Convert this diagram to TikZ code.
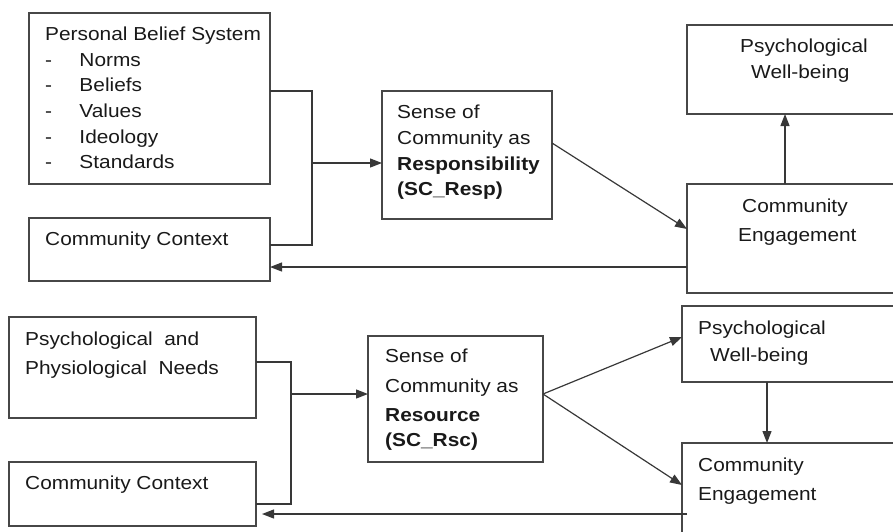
\documentclass[tikz,border=0pt]{standalone}
\usepackage{fontspec}
\setmainfont[FakeStretch=1.11]{Liberation Sans}
\usetikzlibrary{arrows.meta}

\begin{document}
\begin{tikzpicture}[x=1pt,y=-1pt,
  box/.style={draw=black!72, line width=1.2pt, inner sep=0pt, outer sep=0pt, anchor=north west},
  txt/.style={anchor=base west, inner sep=0pt, text=black!90, font=\fontsize{18.8}{22}\selectfont},
  link/.style={draw=black!78, line width=1.2pt},
  arr/.style={link, -{Triangle[length=12pt,width=9pt]}},
]
\useasboundingbox (0,0) rectangle (893,531);
\clip (0,0) rectangle (893,531);

% ---------- upper model: sense of community as responsibility ----------
\node[box, minimum width=241pt, minimum height=171pt] (pbs)  at (29,13)  {};
\node[box, minimum width=241pt, minimum height=63pt]  (cc1)  at (29,218) {};
\node[box, minimum width=170pt, minimum height=128pt] (resp) at (382,91) {};
\node[box, minimum width=220pt, minimum height=89pt]  (pwb1) at (687,25) {};
\node[box, minimum width=220pt, minimum height=109pt] (ce1)  at (687,184) {};

\node[txt] (pbs-t0) at (45,40)   {Personal Belief System};
\node[txt] (pbs-t1) at (45,66)   {\makebox[34.3pt][l]{-}Norms};
\node[txt] (pbs-t2) at (45,91.5) {\makebox[34.3pt][l]{-}Beliefs};
\node[txt] (pbs-t3) at (45,117)  {\makebox[34.3pt][l]{-}Values};
\node[txt] (pbs-t4) at (45,143)  {\makebox[34.3pt][l]{-}Ideology};
\node[txt] (pbs-t5) at (45,168)  {\makebox[34.3pt][l]{-}Standards};

\node[txt] (cc1-t) at (45,245.5) {Community Context};

\node[txt] (resp-t1) at (397,118.3) {Sense of};
\node[txt] (resp-t2) at (397,144)   {Community as};
\node[txt] (resp-t3) at (397,170.5) {\bfseries Responsibility};
\node[txt] (resp-t4) at (397,195.5) {\bfseries (SC\_Resp)};

\node[txt] (pwb1-t1) at (740,52.7) {Psychological};
\node[txt] (pwb1-t2) at (751,78.3) {Well-being};

\node[txt] (ce1-t1) at (742,212.3) {Community};
\node[txt] (ce1-t2) at (738,241.7) {Engagement};

\coordinate (ja) at (312,91);
\coordinate (jb) at (312,245);
\coordinate (jc) at (312,163);
\coordinate (ra) at (0,143);
\coordinate (rb) at (0,229);
\coordinate (fa) at (0,267);
\coordinate (va) at (785,0);

\draw[link] (pbs.east |- ja) -- (ja) -- (jb) -- (cc1.east |- jb);
\draw[arr] (jc) -- (resp.west |- jc);
\draw[arr] (resp.east |- ra) -- (ce1.west |- rb);
\draw[arr] (ce1.north -| va) -- (pwb1.south -| va);
\draw[arr] (ce1.west |- fa) -- (cc1.east |- fa);

% ---------- lower model: sense of community as resource ----------
\node[box, minimum width=247pt, minimum height=101pt] (ppn)  at (9,317)   {};
\node[box, minimum width=247pt, minimum height=64pt]  (cc2)  at (9,462)   {};
\node[box, minimum width=175pt, minimum height=126pt] (rsc)  at (368,336) {};
\node[box, minimum width=225pt, minimum height=76pt]  (pwb2) at (682,306) {};
\node[box, minimum width=225pt, minimum height=110pt] (ce2)  at (682,443) {};

\node[txt] (ppn-t1) at (25,345)   {Psychological\ \ and};
\node[txt] (ppn-t2) at (25,374.3) {Physiological\ \ Needs};

\node[txt] (cc2-t) at (25,489.3) {Community Context};

\node[txt] (rsc-t1) at (385,362.7) {Sense of};
\node[txt] (rsc-t2) at (385,392)   {Community as};
\node[txt] (rsc-t3) at (385,421.5) {\bfseries Resource};
\node[txt] (rsc-t4) at (385,446.7) {\bfseries (SC\_Rsc)};

\node[txt] (pwb2-t1) at (698,334.3) {Psychological};
\node[txt] (pwb2-t2) at (710,361)   {Well-being};

\node[txt] (ce2-t1) at (698,471.7) {Community};
\node[txt] (ce2-t2) at (698,500)   {Engagement};

\coordinate (jd) at (291,362);
\coordinate (je) at (291,504);
\coordinate (jf) at (291,394);
\coordinate (rc) at (0,394);
\coordinate (rd) at (0,337);
\coordinate (re) at (0,485);
\coordinate (fb) at (0,514);
\coordinate (vb) at (767,0);

\draw[link] (ppn.east |- jd) -- (jd) -- (je) -- (cc2.east |- je);
\draw[arr] (jf) -- (rsc.west |- jf);
\draw[arr] (rsc.east |- rc) -- (pwb2.west |- rd);
\draw[arr] (rsc.east |- rc) -- (ce2.west |- re);
\draw[arr] (pwb2.south -| vb) -- (ce2.north -| vb);
\draw[arr, shorten <=-5pt, shorten >=6pt] (ce2.west |- fb) -- (cc2.east |- fb);
\end{tikzpicture}
\end{document}
